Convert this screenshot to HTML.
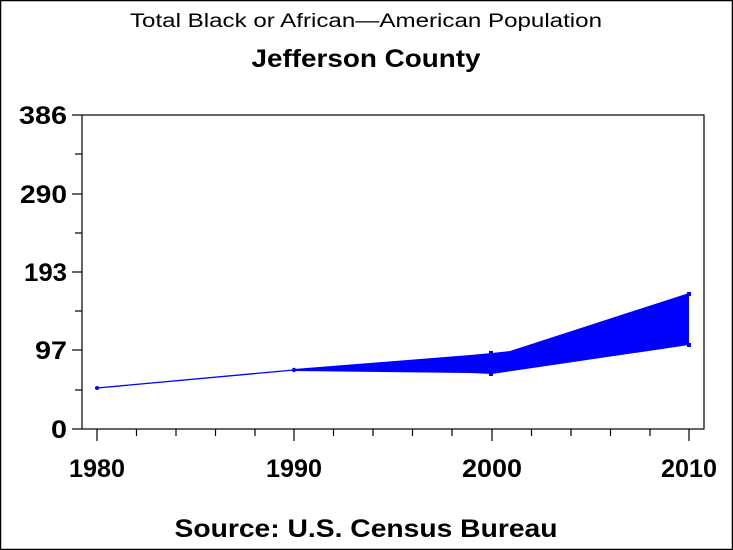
<!DOCTYPE html>
<html><head><meta charset="utf-8"><style>
html,body{margin:0;padding:0;background:#fff;}
svg{display:block;}
text{font-family:"Liberation Sans",Arial,sans-serif;fill:#000;}
</style></head><body>
<svg width="733" height="550" viewBox="0 0 733 550" xmlns="http://www.w3.org/2000/svg">
<rect x="0.5" y="0.5" width="732" height="549" fill="#fff" stroke="#000" stroke-width="1.5"/>
<text x="366" y="27" font-size="19" text-anchor="middle" textLength="472" lengthAdjust="spacingAndGlyphs">Total Black or African—American Population</text>
<text x="366" y="67" font-size="25" font-weight="bold" text-anchor="middle" textLength="229" lengthAdjust="spacingAndGlyphs">Jefferson County</text>
<rect x="82" y="115" width="622" height="314" fill="none" stroke="#000" stroke-width="1.2"/>
<g stroke="#000" stroke-width="1.2">
<line x1="72" y1="115" x2="82" y2="115"/><line x1="72" y1="194" x2="82" y2="194"/><line x1="72" y1="272" x2="82" y2="272"/><line x1="72" y1="350" x2="82" y2="350"/><line x1="72" y1="429" x2="82" y2="429"/>
<line x1="75" y1="154" x2="82" y2="154"/><line x1="75" y1="233" x2="82" y2="233"/><line x1="75" y1="311" x2="82" y2="311"/><line x1="75" y1="390" x2="82" y2="390"/>
<line x1="97" y1="429" x2="97" y2="441"/><line x1="294" y1="429" x2="294" y2="441"/><line x1="492" y1="429" x2="492" y2="441"/><line x1="689" y1="429" x2="689" y2="441"/>
<line x1="136.5" y1="429" x2="136.5" y2="436"/><line x1="176" y1="429" x2="176" y2="436"/><line x1="215.5" y1="429" x2="215.5" y2="436"/><line x1="255" y1="429" x2="255" y2="436"/>
<line x1="333.5" y1="429" x2="333.5" y2="436"/><line x1="373" y1="429" x2="373" y2="436"/><line x1="412.5" y1="429" x2="412.5" y2="436"/><line x1="452" y1="429" x2="452" y2="436"/>
<line x1="531.5" y1="429" x2="531.5" y2="436"/><line x1="571" y1="429" x2="571" y2="436"/><line x1="610.5" y1="429" x2="610.5" y2="436"/><line x1="650" y1="429" x2="650" y2="436"/>
</g>
<g font-size="25" font-weight="bold" text-anchor="end">
<text x="67" y="124" textLength="48" lengthAdjust="spacingAndGlyphs">386</text>
<text x="67" y="203" textLength="47" lengthAdjust="spacingAndGlyphs">290</text>
<text x="67" y="281" textLength="43" lengthAdjust="spacingAndGlyphs">193</text>
<text x="67" y="359" textLength="32" lengthAdjust="spacingAndGlyphs">97</text>
<text x="67" y="438" textLength="16" lengthAdjust="spacingAndGlyphs">0</text>
</g>
<g font-size="25" font-weight="bold" text-anchor="middle">
<text x="97" y="477" textLength="56" lengthAdjust="spacingAndGlyphs">1980</text>
<text x="294" y="477" textLength="56" lengthAdjust="spacingAndGlyphs">1990</text>
<text x="492" y="477" textLength="60" lengthAdjust="spacingAndGlyphs">2000</text>
<text x="689" y="477" textLength="56" lengthAdjust="spacingAndGlyphs">2010</text>
</g>
<text x="366" y="537" font-size="25" font-weight="bold" text-anchor="middle" textLength="383" lengthAdjust="spacingAndGlyphs">Source: U.S. Census Bureau</text>
<polyline points="97,388 294,370" fill="none" stroke="#00f" stroke-width="1.3"/>
<polygon points="294,369 470,355 492,353 510,351 689,293 689,345 492,374 470,373 294,371" fill="#00f"/>
<g fill="#00f">
<circle cx="97" cy="388" r="2"/><circle cx="294" cy="370" r="2.2"/><rect x="489" y="351" width="4" height="4"/><rect x="489" y="372" width="4" height="4"/><rect x="687" y="292" width="4" height="4"/><rect x="687" y="343" width="4" height="4"/>
</g>
</svg>
</body></html>
